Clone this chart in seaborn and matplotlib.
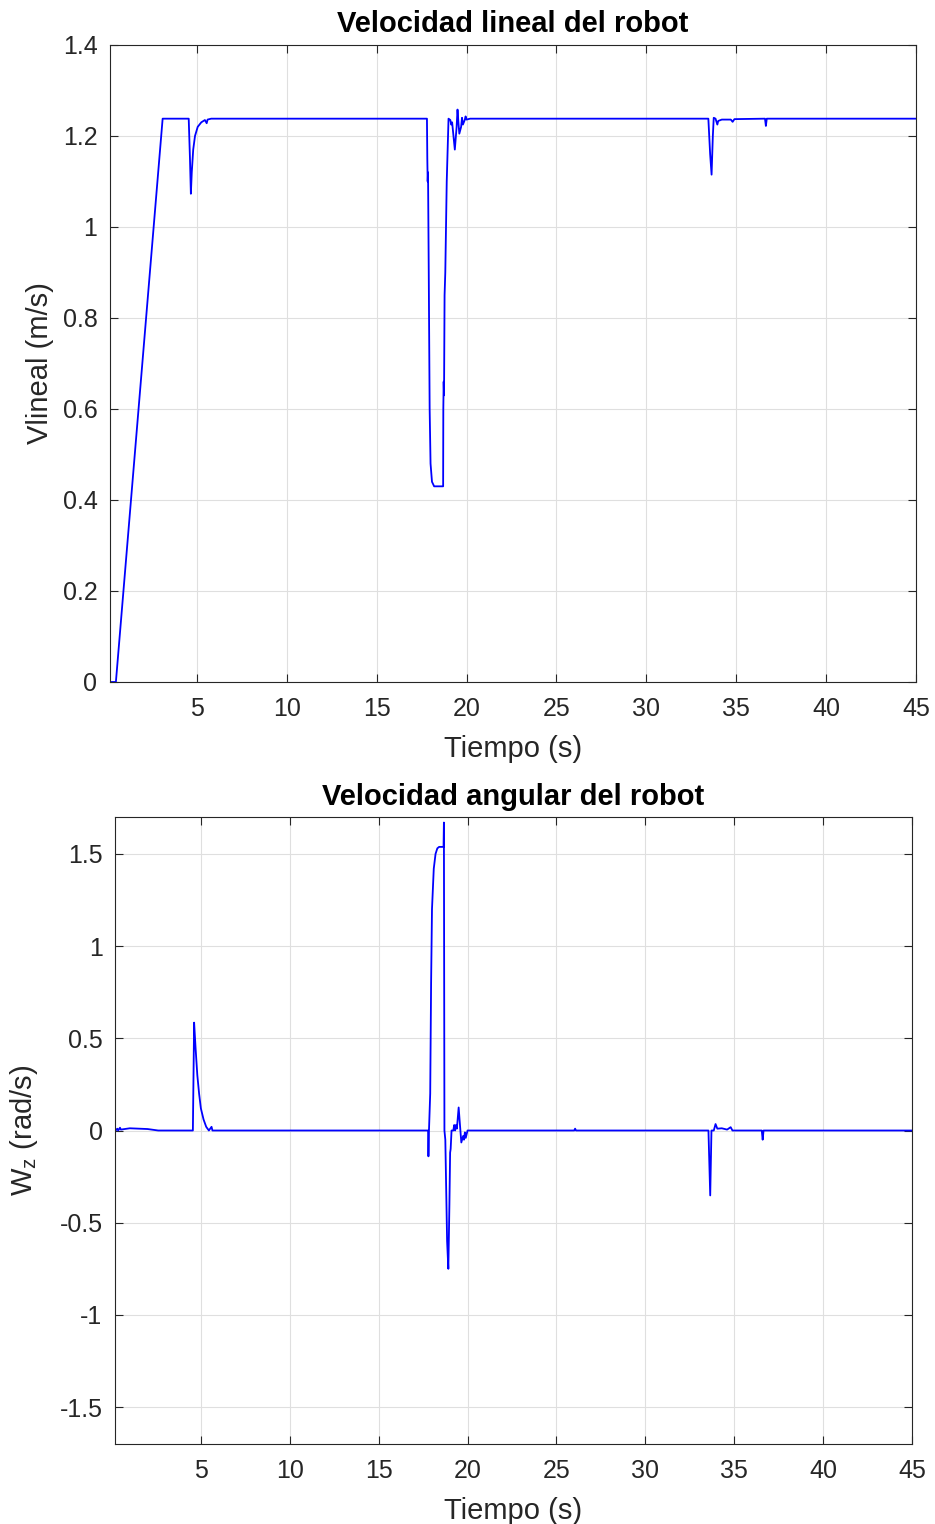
import numpy as np
import pandas as pd
import seaborn as sns
import matplotlib.pyplot as plt

# Linear velocity of the robot (time in s, value in m/s)
t_lineal = [0.2, 0.5, 3.1, 4.55, 4.62, 4.67, 4.72, 4.8, 4.9, 5.05, 5.25, 5.45, 5.55, 5.6, 5.8,
            17.8, 17.82, 17.84, 17.86, 17.9, 17.95, 18.0, 18.08, 18.2, 18.7, 18.71, 18.73, 18.75,
            18.78, 18.82, 18.9, 19.0, 19.1, 19.15, 19.2, 19.35, 19.45, 19.5, 19.55, 19.6, 19.7,
            19.75, 19.8, 19.9, 19.95, 20.0, 20.2, 33.45, 33.55, 33.63, 33.7, 33.75, 33.85, 33.95,
            34.0, 34.2, 34.7, 34.8, 34.9, 36.6, 36.65, 36.7, 45.0]
v_lineal = [0.0, 0.0, 1.238, 1.238, 1.15, 1.073, 1.12, 1.17, 1.2, 1.22, 1.23, 1.235, 1.228, 1.236, 1.238,
            1.238, 1.15, 1.10, 1.12, 0.9, 0.6, 0.48, 0.44, 0.43, 0.43, 0.6, 0.66, 0.63,
            0.85, 0.9, 1.1, 1.238, 1.235, 1.225, 1.23, 1.17, 1.22, 1.258, 1.23, 1.205, 1.22,
            1.24, 1.225, 1.235, 1.243, 1.236, 1.238, 1.238, 1.16, 1.115, 1.2, 1.24, 1.238, 1.225,
            1.233, 1.236, 1.236, 1.231, 1.237, 1.238, 1.222, 1.238, 1.238]

# Angular velocity of the robot (time in s, value in rad/s)
t_angular = [0.2, 0.3, 0.35, 0.45, 0.5, 1.0, 2.0, 2.6, 4.55, 4.62, 4.7, 4.8, 4.9, 5.0, 5.15,
             5.3, 5.45, 5.6, 5.65, 17.78, 17.8, 17.83, 17.9, 17.95, 18.0, 18.1, 18.2, 18.3,
             18.4, 18.65, 18.67, 18.7, 18.75, 18.85, 18.92, 18.98, 19.02, 19.05, 19.1, 19.2,
             19.25, 19.3, 19.35, 19.4, 19.5, 19.55, 19.65, 19.75, 19.8, 19.85, 19.9, 20.0,
             26.0, 26.05, 26.1, 33.55, 33.65, 33.72, 33.85, 33.95, 34.05, 34.3, 34.6, 34.8,
             34.9, 36.55, 36.6, 36.65, 45.0]
w_angular = [0.0, 0.01, 0.0, 0.015, 0.005, 0.012, 0.008, 0.0, 0.0, 0.585, 0.45, 0.3, 0.2, 0.12, 0.06,
             0.02, 0.0, 0.02, 0.0, 0.0, -0.14, 0.0, 0.2, 0.8, 1.2, 1.42, 1.5, 1.53,
             1.538, 1.538, 1.67, 0.0, -0.05, -0.6, -0.75, -0.4, -0.12, -0.1, 0.0, 0.0,
             0.03, 0.0, 0.03, 0.01, 0.125, 0.06, -0.065, -0.03, -0.05, -0.01, -0.04, 0.0,
             0.0, 0.01, 0.0, 0.0, -0.352, 0.0, 0.0, 0.035, 0.01, 0.012, 0.005, 0.018,
             0.0, 0.0, -0.05, 0.0, 0.0]

x_ticks = [5, 10, 15, 20, 25, 30, 35, 40, 45]
y_ticks_lineal = [0, 0.2, 0.4, 0.6, 0.8, 1, 1.2, 1.4]
y_labels_lineal = ["0", "0.2", "0.4", "0.6", "0.8", "1", "1.2", "1.4"]
y_ticks_angular = [-1.5, -1, -0.5, 0, 0.5, 1, 1.5]
y_labels_angular = ["-1.5", "-1", "-0.5", "0", "0.5", "1", "1.5"]

sns.set_style("ticks")
plt.rcParams['font.family'] = ['Liberation Sans', 'DejaVu Sans']
plt.rcParams['mathtext.fontset'] = 'custom'
plt.rcParams['mathtext.rm'] = 'Liberation Sans'
plt.rcParams['mathtext.it'] = 'Liberation Sans'

dark = '#262626'


def style_axes(ax, yticks, ylabels, title, ylabel, ypad):
    ax.set_xticks(x_ticks)
    ax.set_xticklabels([str(v) for v in x_ticks])
    ax.set_yticks(yticks)
    ax.set_yticklabels(ylabels)
    ax.grid(True, color='#dfdfdf', linewidth=0.8)
    ax.set_axisbelow(True)
    ax.tick_params(direction='in', top=True, right=True, length=6, width=0.8,
                   colors=dark, labelsize=18)
    ax.tick_params(axis='x', pad=11)
    ax.tick_params(axis='y', pad=9)
    for sp in ax.spines.values():
        sp.set_visible(True)
        sp.set_color(dark)
        sp.set_linewidth(0.8)
    ax.set_title(title, fontsize=21, fontweight='bold', color='black', pad=9)
    ax.set_xlabel('Tiempo (s)', fontsize=21, color=dark, labelpad=10)
    ax.set_ylabel(ylabel, fontsize=21, color=dark, labelpad=ypad)


fig = plt.figure(figsize=(9.35, 15.24), dpi=100)
ax1 = fig.add_axes([0.1176, 0.5525, 0.8621, 0.418])
ax2 = fig.add_axes([0.123, 0.0525, 0.8524, 0.4114])

df1 = pd.DataFrame({'t': t_lineal, 'v': v_lineal})
df2 = pd.DataFrame({'t': t_angular, 'w': w_angular})

sns.lineplot(data=df1, x='t', y='v', ax=ax1, color='blue', linewidth=1.3, sort=False)
ax1.set_xlim(0.17, 45)
ax1.set_ylim(0, 1.4)
style_axes(ax1, y_ticks_lineal, y_labels_lineal, 'Velocidad lineal del robot', 'Vlineal (m/s)', 6)

sns.lineplot(data=df2, x='t', y='w', ax=ax2, color='blue', linewidth=1.3, sort=False)
ax2.set_xlim(0.17, 45)
ax2.set_ylim(-1.7, 1.7)
style_axes(ax2, y_ticks_angular, y_labels_angular, 'Velocidad angular del robot',
           r'W$_{\mathregular{z}}$ (rad/s)', 14)

fig.savefig('out.png', dpi=100)
